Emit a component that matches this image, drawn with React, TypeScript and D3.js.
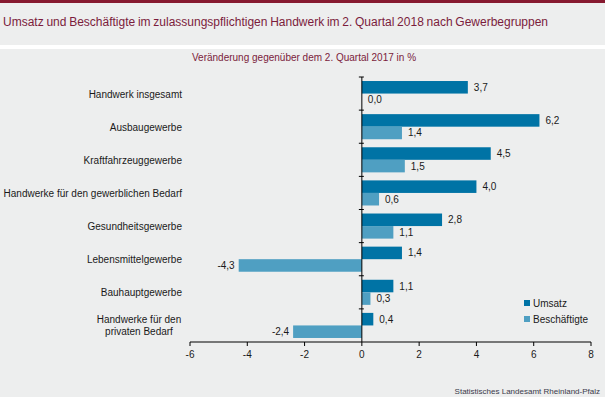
import React from "react";
import * as d3 from "d3";

const WIDTH = 605;
const HEIGHT = 397;

const categories = [
    "Handwerk insgesamt",
    "Ausbaugewerbe",
    "Kraftfahrzeuggewerbe",
    "Handwerke für den gewerblichen Bedarf",
    "Gesundheitsgewerbe",
    "Lebensmittelgewerbe",
    "Bauhauptgewerbe",
    "Handwerke für den\nprivaten Bedarf",
];
const series = ["Umsatz", "Beschäftigte"];
const umsatz = [3.7, 6.2, 4.5, 4.0, 2.8, 1.4, 1.1, 0.4];
const beschaeftigte = [0.0, 1.4, 1.5, 0.6, 1.1, -4.3, 0.3, -2.4];
const xTicks = [-6, -4, -2, 0, 2, 4, 6, 8];

const colors = ["#0073a5", "#4f9fc2"];
const FONT = "Arial, 'Liberation Sans', sans-serif";

const fmt = (v: number) => v.toFixed(1).replace(".", ",");

export default function App() {
    const x = d3.scaleLinear().domain([-6, 8]).range([190, 591]);
    const y = d3.scaleBand().domain(categories).range([77, 342]);
    const inner = d3.scaleBand().domain(series).range([0, y.bandwidth()]).paddingOuter(0.32);
    const values = [umsatz, beschaeftigte];
    const axisY = 342;

    return (
        <svg width={WIDTH} height={HEIGHT} style={{position: "absolute", left: 0, top: 0}}
             fontFamily={FONT}>
            <rect width={WIDTH} height={HEIGHT} fill="#edeeee"/>
            <rect width={WIDTH} height={3} fill="#86192f"/>
            <rect y={45} width={WIDTH} height={4} fill="#ffffff"/>
            <text x={3} y={26} fontSize={12} fill="#7b1c3c" wordSpacing={-0.6}>
                Umsatz und Beschäftigte im zulassungspflichtigen Handwerk im 2. Quartal 2018 nach Gewerbegruppen
            </text>
            <text x={304} y={61} fontSize={10} fill="#7b1c3c" textAnchor="middle">
                Veränderung gegenüber dem 2. Quartal 2017 in %
            </text>

            {/* bars */}
            {series.map((s, si) => (
                <g key={s}>
                    {categories.map((c, i) => {
                        const v = values[si][i];
                        const y0 = (y(c) ?? 0) + (inner(s) ?? 0);
                        const h = inner.bandwidth();
                        const x0 = Math.min(x(0), x(v));
                        const w = Math.abs(x(v) - x(0));
                        const neg = v < 0;
                        return (
                            <g key={c}>
                                <rect x={x0} y={y0} width={w} height={h} fill={colors[si]}/>
                                <text x={neg ? x(v) - 4 : x(v) + 6} y={y0 + h / 2 + 3.5}
                                      fontSize={10} fill="#1a1a1a"
                                      textAnchor={neg ? "end" : "start"}>{fmt(v)}</text>
                            </g>
                        );
                    })}
                </g>
            ))}

            {/* category labels */}
            {categories.map((c) => {
                const lines = c.split("\n");
                const cy = (y(c) ?? 0) + y.bandwidth() / 2;
                if (lines.length === 1) {
                    return <text key={c} x={182} y={cy + 4} fontSize={10} fill="#1a1a1a"
                                 textAnchor="end">{c}</text>;
                }
                return (
                    <text key={c} x={139} y={cy - 2} fontSize={10} fill="#1a1a1a" textAnchor="middle">
                        {lines.map((l, k) => (
                            <tspan key={k} x={139} dy={k === 0 ? 0 : 12}>{l}</tspan>
                        ))}
                    </text>
                );
            })}

            {/* zero line with ticks */}
            <line x1={x(0)} x2={x(0)} y1={77} y2={axisY} stroke="#000" strokeWidth={1}/>
            {categories.map((c) => (
                <line key={c} x1={x(0) - 3} x2={x(0) + 2} y1={(y(c) ?? 0)} y2={(y(c) ?? 0)}
                      stroke="#000" strokeWidth={1}/>
            ))}

            {/* x axis */}
            <line x1={x(-6)} x2={x(8)} y1={axisY} y2={axisY} stroke="#000" strokeWidth={1}/>
            {xTicks.map((t) => (
                <g key={t}>
                    <line x1={x(t)} x2={x(t)} y1={axisY} y2={axisY + 4} stroke="#000"/>
                    <text x={x(t)} y={axisY + 16} fontSize={10} fill="#1a1a1a"
                          textAnchor="middle">{t}</text>
                </g>
            ))}

            {/* legend */}
            {series.map((s, si) => (
                <g key={s} transform={`translate(524,${300 + si * 16})`}>
                    <rect width={6} height={6} fill={colors[si]}/>
                    <text x={9} y={6.5} fontSize={10} fill="#1a1a1a">{s}</text>
                </g>
            ))}

            <text x={600} y={394} fontSize={8} fill="#3a3a4a" textAnchor="end">
                Statistisches Landesamt Rheinland-Pfalz
            </text>
        </svg>
    );
}
